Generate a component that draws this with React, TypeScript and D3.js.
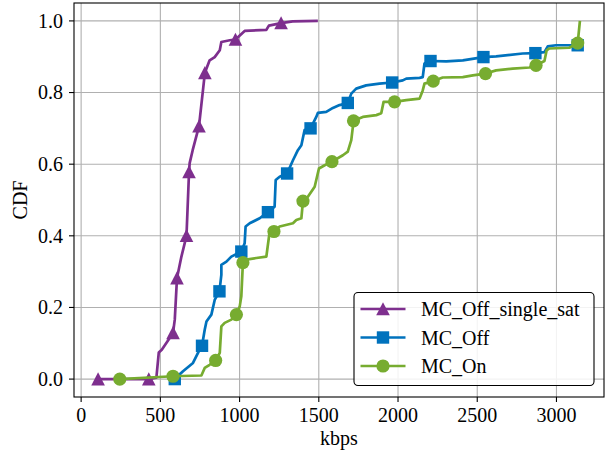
import React, { useEffect, useRef } from 'react';
import * as d3 from 'd3';

// series names / colours (matlab default palette)
const SERIES_NAMES = ['MC_Off_single_sat', 'MC_Off', 'MC_On'];
const SERIES_COLORS = ['#7E2F8E', '#0072BD', '#77AC30'];
const SERIES_MARKERS = ['triangle', 'square', 'circle'];

const X_TICKS = [0, 500, 1000, 1500, 2000, 2500, 3000];
const Y_TICKS = [0, 0.2, 0.4, 0.6, 0.8, 1.0];

// [kbps, cdf]
const offSingleSatLine = [
  [107, 0], [427, 0], [475, 0.004], [490, 0.074], [509, 0.082], [559, 0.115],
  [580, 0.129], [591, 0.166], [605, 0.282], [633, 0.342], [665, 0.4], [681, 0.578],
  [685, 0.603], [704, 0.639], [744, 0.706], [781, 0.855], [811, 0.89], [843, 0.899],
  [875, 0.918], [885, 0.941], [938, 0.946], [974, 0.948], [1032, 0.972], [1169, 0.975],
  [1185, 0.987], [1262, 0.994], [1335, 0.9986], [1494, 1.0],
];
const offSingleSatMarks = [
  [107, 0], [427, 0], [580, 0.129], [605, 0.282], [665, 0.4], [681, 0.578],
  [744, 0.706], [781, 0.855], [974, 0.948], [1262, 0.994],
];

const offLine = [
  [591, 0], [643, 0.022], [706, 0.045], [748, 0.082], [763, 0.093], [780, 0.138],
  [791, 0.161], [822, 0.18], [843, 0.221], [873, 0.245], [885, 0.291], [885, 0.319],
  [917, 0.328], [948, 0.342], [1011, 0.356], [1032, 0.379], [1038, 0.426], [1064, 0.435],
  [1127, 0.449], [1179, 0.466], [1221, 0.481], [1228, 0.556], [1253, 0.565], [1300, 0.574],
  [1337, 0.611], [1368, 0.639], [1390, 0.653], [1410, 0.695], [1448, 0.7], [1484, 0.732],
  [1494, 0.743], [1547, 0.746], [1589, 0.757], [1631, 0.765], [1683, 0.771], [1705, 0.797],
  [1736, 0.811], [1799, 0.82], [1883, 0.825], [1963, 0.828], [2030, 0.834], [2052, 0.839],
  [2136, 0.841], [2156, 0.843], [2167, 0.881], [2205, 0.888], [2304, 0.887], [2409, 0.89],
  [2539, 0.899], [2619, 0.901], [2787, 0.909], [2867, 0.91], [2924, 0.913], [2945, 0.929],
  [2997, 0.932], [3134, 0.932], [3148, 0.935],
];
const offMarks = [
  [591, 0], [763, 0.093], [873, 0.245], [1011, 0.356], [1179, 0.466], [1300, 0.574],
  [1448, 0.7], [1683, 0.771], [1963, 0.828], [2205, 0.888], [2539, 0.899], [2867, 0.91],
  [3134, 0.932],
];

const onLine = [
  [244, 0], [580, 0.008], [759, 0.01], [780, 0.031], [811, 0.04], [849, 0.052],
  [875, 0.073], [885, 0.147], [906, 0.157], [948, 0.166], [980, 0.18], [1001, 0.203],
  [1011, 0.231], [1021, 0.325], [1032, 0.333], [1106, 0.338], [1169, 0.342], [1190, 0.412],
  [1217, 0.412], [1253, 0.426], [1337, 0.435], [1358, 0.444], [1390, 0.449], [1400, 0.497],
  [1431, 0.509], [1474, 0.537], [1501, 0.588], [1537, 0.597], [1583, 0.607], [1652, 0.625],
  [1683, 0.635], [1705, 0.667], [1715, 0.704], [1719, 0.721], [1778, 0.732], [1863, 0.737],
  [1894, 0.742], [1909, 0.774], [1978, 0.774], [2052, 0.779], [2136, 0.783], [2156, 0.806],
  [2167, 0.825], [2222, 0.832], [2282, 0.842], [2409, 0.843], [2472, 0.848], [2552, 0.853],
  [2619, 0.862], [2724, 0.867], [2829, 0.87], [2871, 0.876], [2924, 0.888], [2938, 0.918],
  [2955, 0.923], [3081, 0.925], [3134, 0.938], [3148, 1.0],
];
const onMarks = [
  [244, 0], [580, 0.008], [849, 0.052], [980, 0.18], [1021, 0.325], [1217, 0.412],
  [1400, 0.497], [1583, 0.607], [1719, 0.721], [1978, 0.774], [2222, 0.832], [2552, 0.853],
  [2871, 0.876], [3134, 0.938],
];

const LINES = [offSingleSatLine, offLine, onLine];
const MARKS = [offSingleSatMarks, offMarks, onMarks];

const FONT = "'Liberation Serif', 'Times New Roman', serif";

function drawMarker(g, kind, cx, cy, color) {
  if (kind === 'triangle') {
    g.append('path')
      .attr('d', `M${cx},${cy - 6.8}L${cx + 6.8},${cy + 6.3}L${cx - 6.8},${cy + 6.3}Z`)
      .attr('fill', color);
  } else if (kind === 'square') {
    g.append('rect')
      .attr('x', cx - 6.2)
      .attr('y', cy - 6.2)
      .attr('width', 12.4)
      .attr('height', 12.4)
      .attr('fill', color);
  } else {
    g.append('circle').attr('cx', cx).attr('cy', cy).attr('r', 6.6).attr('fill', color);
  }
}

export default function App() {
  const ref = useRef(null);

  useEffect(() => {
    const svg = d3.select(ref.current);
    svg.selectAll('*').remove();

    const left = 74, right = 604, top = 3, bottom = 397;

    const x = d3.scaleLinear().domain([-45, 3300]).range([left, right]);
    const y = d3.scaleLinear().domain([-0.05, 1.05]).range([bottom, top]);

    svg.append('rect').attr('width', 608).attr('height', 458).attr('fill', '#fff');

    // grid
    const grid = svg.append('g').attr('stroke', '#b0b0b0').attr('stroke-width', 1.1);
    X_TICKS.forEach((t) => {
      grid.append('line').attr('x1', x(t)).attr('x2', x(t)).attr('y1', top).attr('y2', bottom);
    });
    Y_TICKS.forEach((t) => {
      grid.append('line').attr('x1', left).attr('x2', right).attr('y1', y(t)).attr('y2', y(t));
    });

    // curves
    const line = d3
      .line()
      .x((d) => x(d[0]))
      .y((d) => y(d[1]));

    const plot = svg.append('g');
    LINES.forEach((data, i) => {
      const g = plot.append('g');
      g.append('path')
        .attr('d', line(data))
        .attr('fill', 'none')
        .attr('stroke', SERIES_COLORS[i])
        .attr('stroke-width', 2.7)
        .attr('stroke-linejoin', 'round');
      MARKS[i].forEach((d) => drawMarker(g, SERIES_MARKERS[i], x(d[0]), y(d[1]), SERIES_COLORS[i]));
    });

    // frame + ticks
    svg.append('rect')
      .attr('x', left)
      .attr('y', top)
      .attr('width', right - left)
      .attr('height', bottom - top)
      .attr('fill', 'none')
      .attr('stroke', '#000')
      .attr('stroke-width', 1.1);

    const txt = svg.append('g').style('font-family', FONT).style('font-size', '20px');

    X_TICKS.forEach((t) => {
      svg.append('line')
        .attr('x1', x(t)).attr('x2', x(t))
        .attr('y1', bottom).attr('y2', bottom + 5)
        .attr('stroke', '#000').attr('stroke-width', 1.1);
      txt.append('text')
        .attr('x', x(t))
        .attr('y', 421.5)
        .attr('text-anchor', 'middle')
        .text(t);
    });
    Y_TICKS.forEach((t) => {
      svg.append('line')
        .attr('x1', left - 5).attr('x2', left)
        .attr('y1', y(t)).attr('y2', y(t))
        .attr('stroke', '#000').attr('stroke-width', 1.1);
      txt.append('text')
        .attr('x', 63)
        .attr('y', y(t) + 6.7)
        .attr('text-anchor', 'end')
        .text(t.toFixed(1));
    });

    // axis labels
    txt.append('text')
      .attr('x', (left + right) / 2)
      .attr('y', 445)
      .attr('text-anchor', 'middle')
      .text('kbps');
    txt.append('text')
      .attr('transform', `translate(27,${(top + bottom) / 2}) rotate(-90)`)
      .attr('text-anchor', 'middle')
      .text('CDF');

    // legend
    const lg = svg.append('g').style('font-family', FONT).style('font-size', '20px');
    lg.append('rect')
      .attr('x', 354)
      .attr('y', 292.5)
      .attr('width', 240)
      .attr('height', 93)
      .attr('rx', 4)
      .attr('fill', '#fff')
      .attr('fill-opacity', 0.85)
      .attr('stroke', '#000')
      .attr('stroke-width', 1.1);
    SERIES_NAMES.forEach((name, i) => {
      const ry = 309 + i * 28.5;
      lg.append('line')
        .attr('x1', 360.5).attr('x2', 405.5)
        .attr('y1', ry).attr('y2', ry)
        .attr('stroke', SERIES_COLORS[i])
        .attr('stroke-width', 2.7);
      drawMarker(lg, SERIES_MARKERS[i], 383, ry, SERIES_COLORS[i]);
      lg.append('text')
        .attr('x', 421)
        .attr('y', ry + 7)
        .text(name);
    });
  }, []);

  return (
    <svg
      ref={ref}
      width={608}
      height={458}
      style={{ position: 'absolute', left: 0, top: 0, display: 'block' }}
    />
  );
}
